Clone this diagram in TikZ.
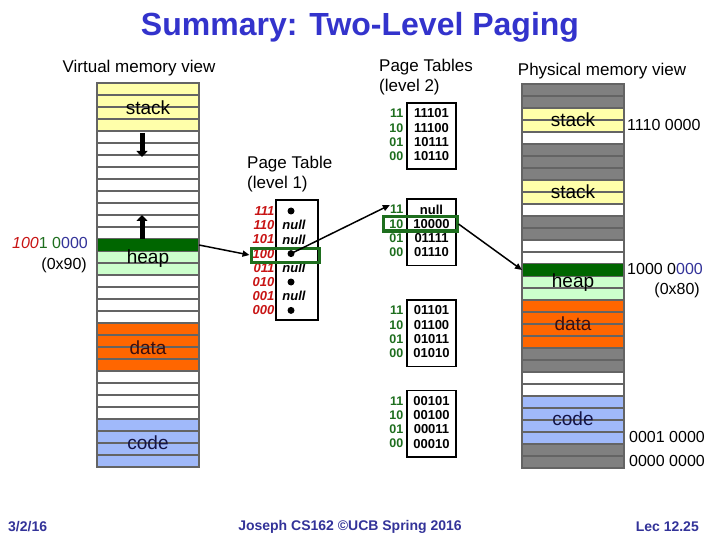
\documentclass[tikz,border=0pt]{standalone}
\usepackage{fontspec}
\setmainfont{Liberation Sans}
\usetikzlibrary{arrows.meta}
\definecolor{ttl}{RGB}{51,51,204}
\definecolor{foot}{RGB}{51,51,153}
\definecolor{mY}{RGB}{255,255,170}
\definecolor{mW}{RGB}{255,255,255}
\definecolor{mG}{RGB}{0,102,0}
\definecolor{mH}{RGB}{204,255,204}
\definecolor{mO}{RGB}{255,102,0}
\definecolor{mB}{RGB}{160,185,250}
\definecolor{mK}{RGB}{128,128,128}
\definecolor{sepgray}{RGB}{100,100,100}
\definecolor{hlgreen}{RGB}{30,110,30}
\definecolor{lblgreen}{RGB}{30,110,30}
\definecolor{lblred}{RGB}{200,20,20}
\definecolor{offblue}{RGB}{51,51,153}
\definecolor{datatxt}{RGB}{60,15,15}
\definecolor{codetxt}{RGB}{20,20,70}
\begin{document}
\begin{tikzpicture}[x=1pt,y=-1pt,
  sep/.style={draw=sepgray, line width=1.6pt},
  colframe/.style={draw=sepgray, line width=2pt},
  rowbox/.style={draw=none, minimum width=102pt, minimum height=12pt, inner sep=0pt, outer sep=0pt},
  memlbl/.style={font=\fontsize{19}{21}\selectfont, inner sep=0pt},
  hdr/.style={font=\fontsize{17}{20}\selectfont, inner sep=0pt, align=left},
  addr/.style={font=\fontsize{16}{19}\selectfont, inner sep=0pt},
  tbox/.style={draw, line width=1.6pt, minimum width=49pt, minimum height=66.5pt, inner sep=0pt},
  l2lab/.style={font=\fontsize{12.5}{14}\bfseries, text=lblgreen, inner sep=0pt},
  l2val/.style={font=\fontsize{13}{14}\bfseries, inner sep=0pt},
  l1lab/.style={font=\fontsize{13}{14}\bfseries\itshape, text=lblred, inner sep=0pt},
  nulltxt/.style={font=\fontsize{13}{14}\bfseries\itshape, inner sep=0pt},
  dotnode/.style={circle, fill=black, inner sep=0pt, minimum size=7pt},
  hl/.style={draw=hlgreen, line width=3pt, inner sep=0pt},
  conn/.style={draw=black, line width=1.5pt, -{Triangle[length=7pt,width=6pt]}},
  fat/.style={draw=black, line width=5pt, -{Triangle[length=6pt,width=11pt]}},
  foottxt/.style={font=\fontsize{14}{16}\bfseries, text=foot, inner sep=0pt}
]
\useasboundingbox (0,0) rectangle (720,540);
\fill[white] (0,0) rectangle (720,540);

% ---------- title and headers ----------
\node[font=\fontsize{32}{36}\bfseries, text=ttl, inner sep=0pt] (title) at (360,27) {Summary: Two-Level Paging};
\node[hdr] (vhdr) at (139,68) {Virtual memory view};
\node[hdr, anchor=north west] (l2hdr) at (379,59) {Page Tables\\(level 2)};
\node[hdr, anchor=north west] (l1hdr) at (247,156) {Page Table\\(level 1)};
\node[hdr] (phdr) at (602,71) {Physical memory view};

% ---------- virtual memory column ----------
\foreach \c [count=\i from 0] in {Y,Y,Y,Y,W,W,W,W,W,W,W,W,W,G,H,H,W,W,W,W,O,O,O,O,W,W,W,W,B,B,B,B}
  \fill[fill=m\c] (97,83+12*\i) rectangle ++(102,12);
\foreach \i in {1,...,31}
  \draw[sep] (97,83+12*\i) -- ++(102,0);
\node[rowbox, fill=mG] (vgreen) at (148,245) {};
\draw[colframe] (97,83) rectangle (199,467);
\node[memlbl] (vstack) at (148,108) {stack};
\node[memlbl] (vheap) at (148,259) {heap};
\node[memlbl, text=datatxt] (vdata) at (148,348) {data};
\node[memlbl, text=codetxt] (vcode) at (148,443) {code};
\coordinate (dnA) at (142,133);
\coordinate (dnB) at (142,157);
\coordinate (upA) at (142,239);
\coordinate (upB) at (142,215);
\draw[fat] (dnA) -- (dnB);
\draw[fat] (upA) -- (upB);

\node[addr, anchor=east] (vaddr) at (88,243) {\textcolor{lblred}{\textit{100}}\textcolor{lblgreen}{1 0}\textcolor{offblue}{000}};
\node[addr, anchor=east] (vhex) at (87,265) {(0x90)};

% ---------- physical memory column ----------
\foreach \c [count=\i from 0] in {K,K,Y,Y,W,K,K,K,Y,Y,W,K,K,W,W,G,H,H,O,O,O,O,K,K,W,W,B,B,B,B,K,K}
  \fill[fill=m\c] (522,84+12*\i) rectangle ++(102,12);
\foreach \i in {1,...,31}
  \draw[sep] (522,84+12*\i) -- ++(102,0);
\node[rowbox, fill=mG] (pgreen) at (573,270) {};
\draw[colframe] (522,84) rectangle (624,468);
\node[memlbl] (pstack1) at (573,120) {stack};
\node[memlbl] (pstack2) at (573,192) {stack};
\node[memlbl] (pheap) at (573,283) {heap};
\node[memlbl, text=datatxt] (pdata) at (573,324) {data};
\node[memlbl, text=codetxt] (pcode) at (573,419) {code};

\node[addr, anchor=west] (pa1) at (627,125) {1110 0000};
\node[addr, anchor=west] (pa2) at (627,269) {1000 0\textcolor{offblue}{000}};
\node[addr, anchor=east] (pa2h) at (700,290) {(0x80)};
\node[addr, anchor=west] (pa3) at (629,437) {0001 0000};
\node[addr, anchor=west] (pa4) at (629,461) {0000 0000};

% ---------- level-1 page table ----------
\node[draw, line width=1.6pt, minimum width=42pt, minimum height=120pt, inner sep=0pt] (l1) at (297,260) {};
\foreach \lab [count=\k from 0] in {111,110,101,100,011,010,001,000}
  \node[l1lab, anchor=east] (l1-\lab) at (274.5,211+14.2*\k) {\lab};
\foreach \k/\nm in {0/d111,3/d100,5/d010,7/d000}
  \node[dotnode] (\nm) at (291,211+14.2*\k) {};
\foreach \k/\nm in {1/n110,2/n101,4/n011,6/n001}
  \node[nulltxt] (\nm) at (294,211+14.2*\k) {null};
\node[hl, minimum width=68pt, minimum height=14pt] (l1hl) at (285,255) {};

% ---------- level-2 page tables ----------
\foreach \nm/\tp/\va/\vb/\vc/\vd in {tA/102/11101/11100/10111/10110, tB/198/null/10000/01111/01110, tC/299/01101/01100/01011/01010, tD/389.5/00101/00100/00011/00010} {
  \node[tbox, anchor=north] (\nm) at (431.5,\tp) {};
  \foreach \lab/\val [count=\k from 0] in {11/\va,10/\vb,01/\vc,00/\vd} {
    \node[l2lab, anchor=east] (\nm-\lab) at (403.5,\tp+11.5+14.2*\k) {\lab};
    \node[l2val] (\nm-v\lab) at (431.5,\tp+11.5+14.2*\k) {\val};
  }
}
\node[hl, minimum width=74pt, minimum height=14pt] (l2hl) at (420,224) {};

% ---------- connectors ----------
\draw[conn] (vgreen.east) -- (l1hl.west);
\draw[conn] (d100.center) -- (tB-11.north west);
\draw[conn] (l2hl.east) -- (pgreen.west);

% ---------- footer ----------
\node[foottxt, anchor=west] (fdate) at (8,527) {3/2/16};
\node[foottxt] (fmid) at (350,527) {Joseph CS162 ©UCB Spring 2016};
\node[foottxt, anchor=east] (flec) at (699,527) {Lec 12.25};
\end{tikzpicture}
\end{document}
